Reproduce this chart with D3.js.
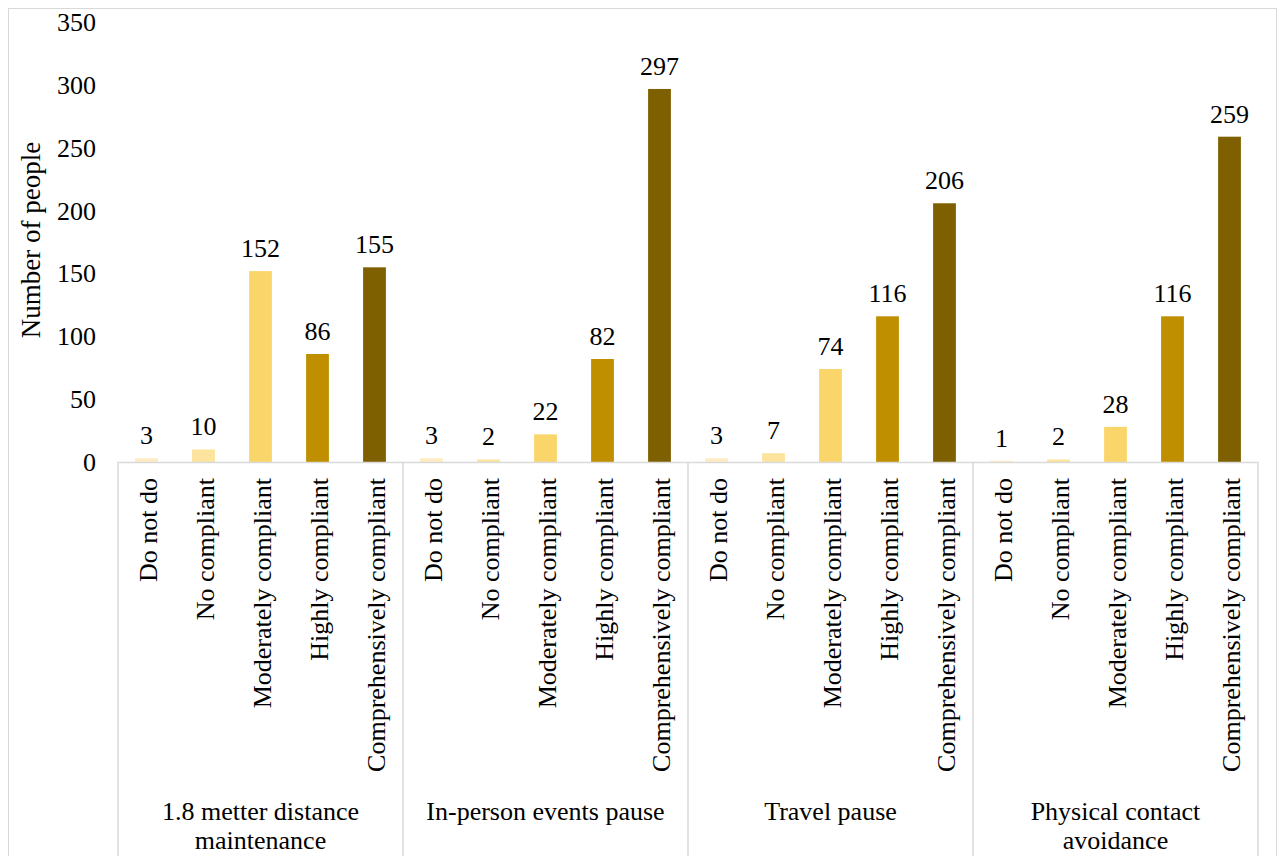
<!DOCTYPE html>
<html>
<head>
<meta charset="utf-8">
<script src="https://cdn.jsdelivr.net/npm/d3@7"></script>
</head>
<body style="margin:0">
<svg id="viz" width="1280" height="856"></svg>
<script>
// Data
const groups = ["1.8 metter distance maintenance", "In-person events pause", "Travel pause", "Physical contact avoidance"];
const groupLines = [["1.8 metter distance", "maintenance"], ["In-person events pause"], ["Travel pause"], ["Physical contact", "avoidance"]];
const levels = ["Do not do", "No compliant", "Moderately compliant", "Highly compliant", "Comprehensively compliant"];
const distanceVals = [3, 10, 152, 86, 155];
const eventsVals = [3, 2, 22, 82, 297];
const travelVals = [3, 7, 74, 116, 206];
const contactVals = [1, 2, 28, 116, 259];
const yTicks = [0, 50, 100, 150, 200, 250, 300, 350];
const levelColours = ["#fdecc2", "#fde49c", "#fad66a", "#bf8f00", "#7f6000"];

const allVals = [distanceVals, eventsVals, travelVals, contactVals];
const rows = [];
groups.forEach((g, gi) => {
    levels.forEach((l, li) => rows.push({ group: g, gi, level: l, li, value: allVals[gi][li] }));
});

const svg = d3.select("#viz");
const font = "Times New Roman";
const fontSize = 26;

// outer frame
svg.append("rect")
    .attr("x", 8.5).attr("y", 8.5)
    .attr("width", 1268).attr("height", 870)
    .attr("fill", "none").attr("stroke", "#d9d9d9").attr("stroke-width", 1);

const plotLeft = 118, plotRight = 1258, plotTop = 22.4, baseY = 462;

const y = d3.scaleLinear().domain([0, 350]).range([baseY, plotTop]);

const xGroup = d3.scaleBand().domain(groups).range([plotLeft, plotRight]).padding(0);
const xLevel = d3.scaleBand().domain(levels).range([0, xGroup.bandwidth()]).paddingInner(0.6).paddingOuter(0.3);
const barMid = d => xGroup(d.group) + xLevel(d.level) + xLevel.bandwidth() / 2;

// y tick labels
svg.append("g").selectAll("text")
    .data(yTicks)
    .join("text")
    .attr("x", 96)
    .attr("y", d => y(d))
    .attr("dy", "0.34em")
    .attr("text-anchor", "end")
    .attr("font-size", fontSize)
    .style("font-family", font)
    .text(d => d);

// y title
svg.append("text")
    .attr("transform", `translate(40,240) rotate(-90)`)
    .attr("text-anchor", "middle")
    .attr("font-size", 27)
    .style("font-family", font)
    .text("Number of people");

// bars
svg.append("g").selectAll("rect")
    .data(rows)
    .join("rect")
    .attr("x", d => xGroup(d.group) + xLevel(d.level))
    .attr("y", d => y(d.value))
    .attr("width", xLevel.bandwidth())
    .attr("height", d => baseY - y(d.value))
    .attr("fill", d => levelColours[d.li]);

// value labels
svg.append("g").selectAll("text")
    .data(rows)
    .join("text")
    .attr("x", barMid)
    .attr("y", d => y(d.value) - 14)
    .attr("text-anchor", "middle")
    .attr("font-size", fontSize)
    .style("font-family", font)
    .text(d => d.value);

// x axis line and group separators
svg.append("line")
    .attr("x1", plotLeft).attr("x2", plotRight)
    .attr("y1", baseY + 0.5).attr("y2", baseY + 0.5)
    .attr("stroke", "#d9d9d9").attr("stroke-width", 1.5);

const seps = groups.map(g => xGroup(g)).concat([plotRight]);
svg.append("g").selectAll("line")
    .data(seps)
    .join("line")
    .attr("x1", d => d).attr("x2", d => d)
    .attr("y1", baseY).attr("y2", 856)
    .attr("stroke", "#d9d9d9").attr("stroke-width", 1.5);

// category labels (rotated)
svg.append("g").selectAll("text")
    .data(rows)
    .join("text")
    .attr("transform", d => `translate(${barMid(d) + 10},478) rotate(-90)`)
    .attr("text-anchor", "end")
    .attr("font-size", fontSize)
    .style("font-family", font)
    .text(d => d.level);

// group labels
const gl = svg.append("g").selectAll("text")
    .data(groups)
    .join("text")
    .attr("x", d => xGroup(d) + xGroup.bandwidth() / 2)
    .attr("y", 820)
    .attr("text-anchor", "middle")
    .attr("font-size", fontSize)
    .style("font-family", font);
gl.selectAll("tspan")
    .data((d, i) => groupLines[i])
    .join("tspan")
    .attr("x", function () { return this.parentNode.getAttribute("x"); })
    .attr("dy", (d, i) => i === 0 ? 0 : 29)
    .text(d => d);
</script>
</body>
</html>
